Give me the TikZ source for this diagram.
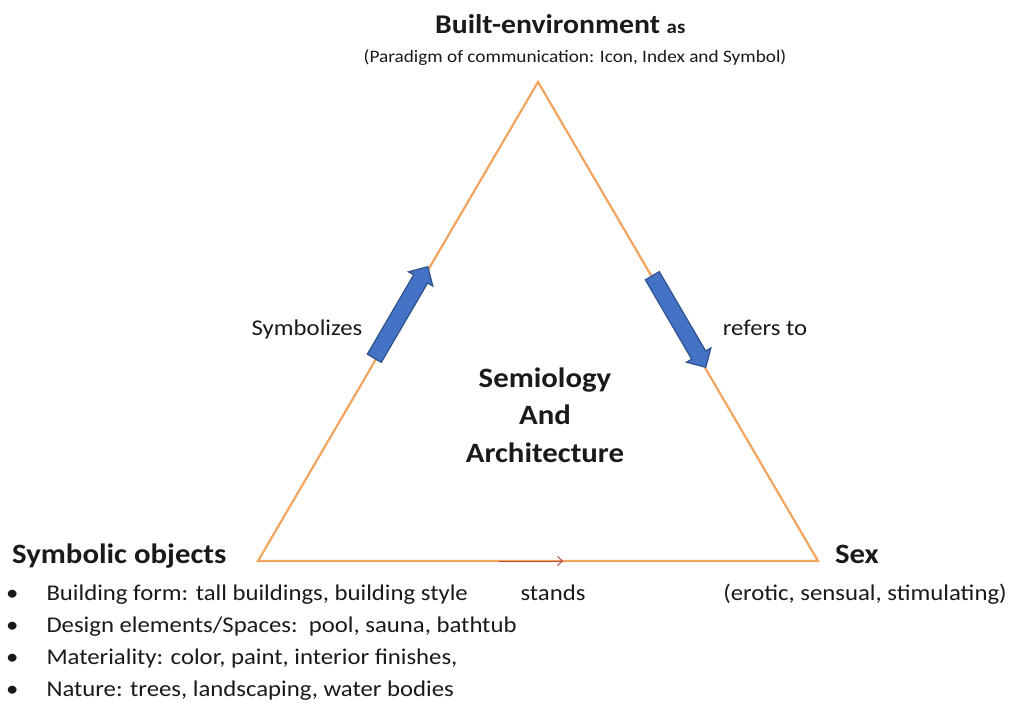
\documentclass[tikz,border=0pt]{standalone}
\usepackage{fontspec}
\setmainfont{Carlito}[FakeStretch=1.1]
\usetikzlibrary{shapes.arrows, arrows.meta, positioning, calc}
\definecolor{semorange}{HTML}{F2A55E}
\definecolor{semblue}{HTML}{4472C4}
\definecolor{semdarkblue}{HTML}{2F528F}
\definecolor{semred}{HTML}{B5524A}
\definecolor{semtext}{HTML}{1A1A1A}

\begin{document}
\begin{tikzpicture}[x=1pt, y=-1pt,
      edge/.style={semorange, line width=2.2pt, line join=miter},
      blockarrow/.style={single arrow, draw=semdarkblue, fill=semblue, line width=1.2pt, inner sep=7.5pt, minimum height=106pt, single arrow head extend=6pt, single arrow head indent=0pt},
      thinarr/.style={-{Straight Barb[length=5pt, width=9pt]}, semred, line width=1pt},
      corner/.style={font=\fontsize{27}{30}\selectfont\bfseries, text=semtext, inner sep=0pt},
      label/.style={font=\fontsize{22.5}{26}\selectfont, text=semtext, inner sep=0pt},
      note/.style={font=\fontsize{22.5}{32}\selectfont, text=semtext, inner sep=0pt}
    ]
      \useasboundingbox (0,0) rectangle (1011,703);
      \fill[white] (0,0) rectangle (1011,703);

      \coordinate (T) at (538,82);
      \coordinate (L) at (258,561);
      \coordinate (R) at (818,561);
      \coordinate (SA) at ($(L)!0.43!(R)$);
      \coordinate (SB) at ($(L)!0.545!(R)$);

      \draw[edge] (T) -- (R) -- (L) -- cycle;
      \draw[thinarr] (SA) -- (SB);

      \node[blockarrow, rotate=59.7] (up) at (399,316) {};
      \node[blockarrow, rotate=-59.7] (down) at (677,318) {};

      % corner labels
      \node[corner, anchor=base west] (built) at (435,34) {Built-environment {\fontsize{19}{22}\selectfont as}};
      \node[label, font=\fontsize{17.5}{20}\selectfont, anchor=base] (paradigm) at (575,63) {(Paradigm of communication: Icon, Index and Symbol)};
      \node[corner, font=\fontsize{28}{32}\selectfont\bfseries, anchor=base west] (symb) at (12,563) {Symbolic objects};
      \node[corner, font=\fontsize{28}{32}\selectfont\bfseries, anchor=base] (sex) at (857,563) {Sex};
      \node[label, anchor=base] (erotic) at (865,600) {(erotic, sensual, stimulating)};

      % edge labels
      \node[label, anchor=base] (symbolizes) at (307,335) {Symbolizes};
      \node[label, anchor=base] (refers) at (765,335) {refers to};
      \node[label, anchor=base] (stands) at (553,600) {stands};

      \node[font=\fontsize{28}{37.5}\selectfont\bfseries, text=semtext, align=center, anchor=base] (centre) at (545,462) {Semiology\\And\\Architecture};

      % bullet list
      \node[note, anchor=base west, align=left] (items) at (6,696) {%
        \textbullet\hspace{28pt}Building form: tall buildings, building style\\
        \textbullet\hspace{28pt}Design elements/Spaces:\ \ pool, sauna, bathtub\\
        \textbullet\hspace{28pt}Materiality: color, paint, interior finishes,\\
        \textbullet\hspace{28pt}Nature: trees, landscaping, water bodies};
    \end{tikzpicture}
\end{document}
